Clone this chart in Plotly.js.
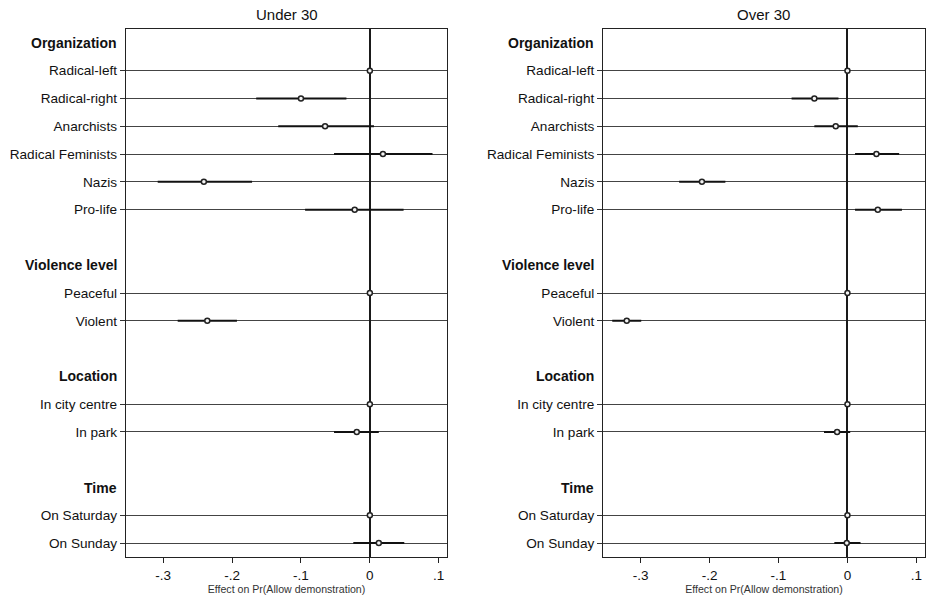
<!DOCTYPE html>
<html>
<head>
<meta charset="utf-8">
<script src="https://cdn.plot.ly/plotly-3.0.1.min.js"></script>
<style>html,body{margin:0;padding:0;background:#fff;}#chart{width:926px;height:604px;}</style>
</head>
<body>
<div id="chart"></div>
<script>
// Row labels (top to bottom); "" = blank spacer row
const rowLabels = ["Organization","Radical-left","Radical-right","Anarchists","Radical Feminists","Nazis","Pro-life","",
  "Violence level","Peaceful","Violent","",
  "Location","In city centre","In park","",
  "Time","On Saturday","On Sunday"];
const headerLabels = ["Organization","Violence level","Location","Time"];

// Under 30: estimates and 95% CI bounds (null = header/blank row)
const under30Est = [null,0,-0.100,-0.065,0.019,-0.241,-0.022,null, null,0,-0.236,null, null,0,-0.019,null, null,0,0.013];
const under30Lo  = [null,0,-0.165,-0.133,-0.052,-0.308,-0.094,null, null,0,-0.279,null, null,0,-0.052,null, null,0,-0.024];
const under30Hi  = [null,0,-0.034,0.006,0.091,-0.171,0.049,null, null,0,-0.193,null, null,0,0.013,null, null,0,0.050];

// Over 30
const over30Est = [null,0,-0.048,-0.017,0.042,-0.211,0.044,null, null,0,-0.320,null, null,0,-0.015,null, null,0,-0.001];
const over30Lo  = [null,0,-0.081,-0.048,0.011,-0.244,0.011,null, null,0,-0.341,null, null,0,-0.034,null, null,0,-0.019];
const over30Hi  = [null,0,-0.013,0.015,0.075,-0.177,0.079,null, null,0,-0.299,null, null,0,0.004,null, null,0,0.019];

const panelTitles = ["Under 30","Over 30"];
const xTickVals = [-0.3,-0.2,-0.1,0,0.1];
const xTickText = ["-.3","-.2","-.1","0",".1"];
const xTitle = "Effect on Pr(Allow demonstration)";

const FONT = "Arial, 'Liberation Sans', sans-serif";
const rowIdx = rowLabels.map((_, i) => i);
const itemIdx = rowIdx.filter(i => rowLabels[i] !== "" && !headerLabels.includes(rowLabels[i]));
const headerIdx = rowIdx.filter(i => headerLabels.includes(rowLabels[i]));

function mkTrace(est, lo, hi, xa, ya) {
  return {
    type: "scatter", mode: "markers", xaxis: xa, yaxis: ya,
    x: est, y: rowIdx,
    error_x: {
      type: "data", symmetric: false,
      array: est.map((v, i) => v === null ? null : hi[i] - v),
      arrayminus: est.map((v, i) => v === null ? null : v - lo[i]),
      color: "#111", thickness: 2, width: 0
    },
    marker: {symbol: "circle", size: 5, color: "#f4f4f4", line: {color: "#222", width: 1.5}},
    showlegend: false, hoverinfo: "skip"
  };
}

const data = [
  mkTrace(under30Est, under30Lo, under30Hi, "x", "y"),
  mkTrace(over30Est, over30Lo, over30Hi, "x2", "y2")
];

function xAxis(domain, anchor) {
  return {
    domain: domain, anchor: anchor, range: [-0.354, 0.112],
    tickvals: xTickVals, ticktext: xTickText,
    ticks: "outside", ticklen: 5, tickcolor: "#222", tickwidth: 1,
    showgrid: false, zeroline: true, zerolinecolor: "#1a1a1a", zerolinewidth: 2,
    showline: true, mirror: true, linecolor: "#222", linewidth: 1.3,
    tickfont: {family: FONT, size: 13.5, color: "#111"},
    title: {text: xTitle, font: {family: FONT, size: 10.6, color: "#333"}, standoff: 4},
    fixedrange: true
  };
}
function yAxis(anchor) {
  return {
    anchor: anchor, range: [18.5, -0.5],
    tickvals: itemIdx, ticktext: itemIdx.map(i => rowLabels[i]),
    ticks: "outside", ticklen: 5, tickcolor: "#333", tickwidth: 1,
    showgrid: true, gridcolor: "#444", gridwidth: 1,
    zeroline: false,
    showline: true, mirror: true, linecolor: "#222", linewidth: 1.3,
    tickfont: {family: FONT, size: 13.6, color: "#111"},
    fixedrange: true
  };
}

const annotations = [];
[["x","y"],["x2","y2"]].forEach((ax, p) => {
  annotations.push({
    text: panelTitles[p], xref: ax[0] + " domain", yref: "paper", x: 0.5, y: 1,
    xanchor: "center", yanchor: "bottom", yshift: 4, showarrow: false,
    font: {family: FONT, size: 15, color: "#111"}
  });
  headerIdx.forEach(i => {
    annotations.push({
      text: "<b>" + rowLabels[i] + "</b>", xref: ax[0] + " domain", yref: ax[1],
      x: 0, y: i, xanchor: "right", yanchor: "middle", xshift: -7, showarrow: false,
      font: {family: FONT, size: 14, color: "#111"}
    });
  });
});

const layout = {
  width: 926, height: 604,
  margin: {l: 0, r: 0, t: 29, b: 47},
  paper_bgcolor: "#fff", plot_bgcolor: "#fff",
  xaxis: xAxis([0.1361, 0.4827], "y"),
  yaxis: yAxis("x"),
  xaxis2: xAxis([0.6515, 0.9986], "y2"),
  yaxis2: yAxis("x2"),
  annotations: annotations,
  showlegend: false
};

Plotly.newPlot("chart", data, layout, {displayModeBar: false, staticPlot: true});
</script>
</body>
</html>
